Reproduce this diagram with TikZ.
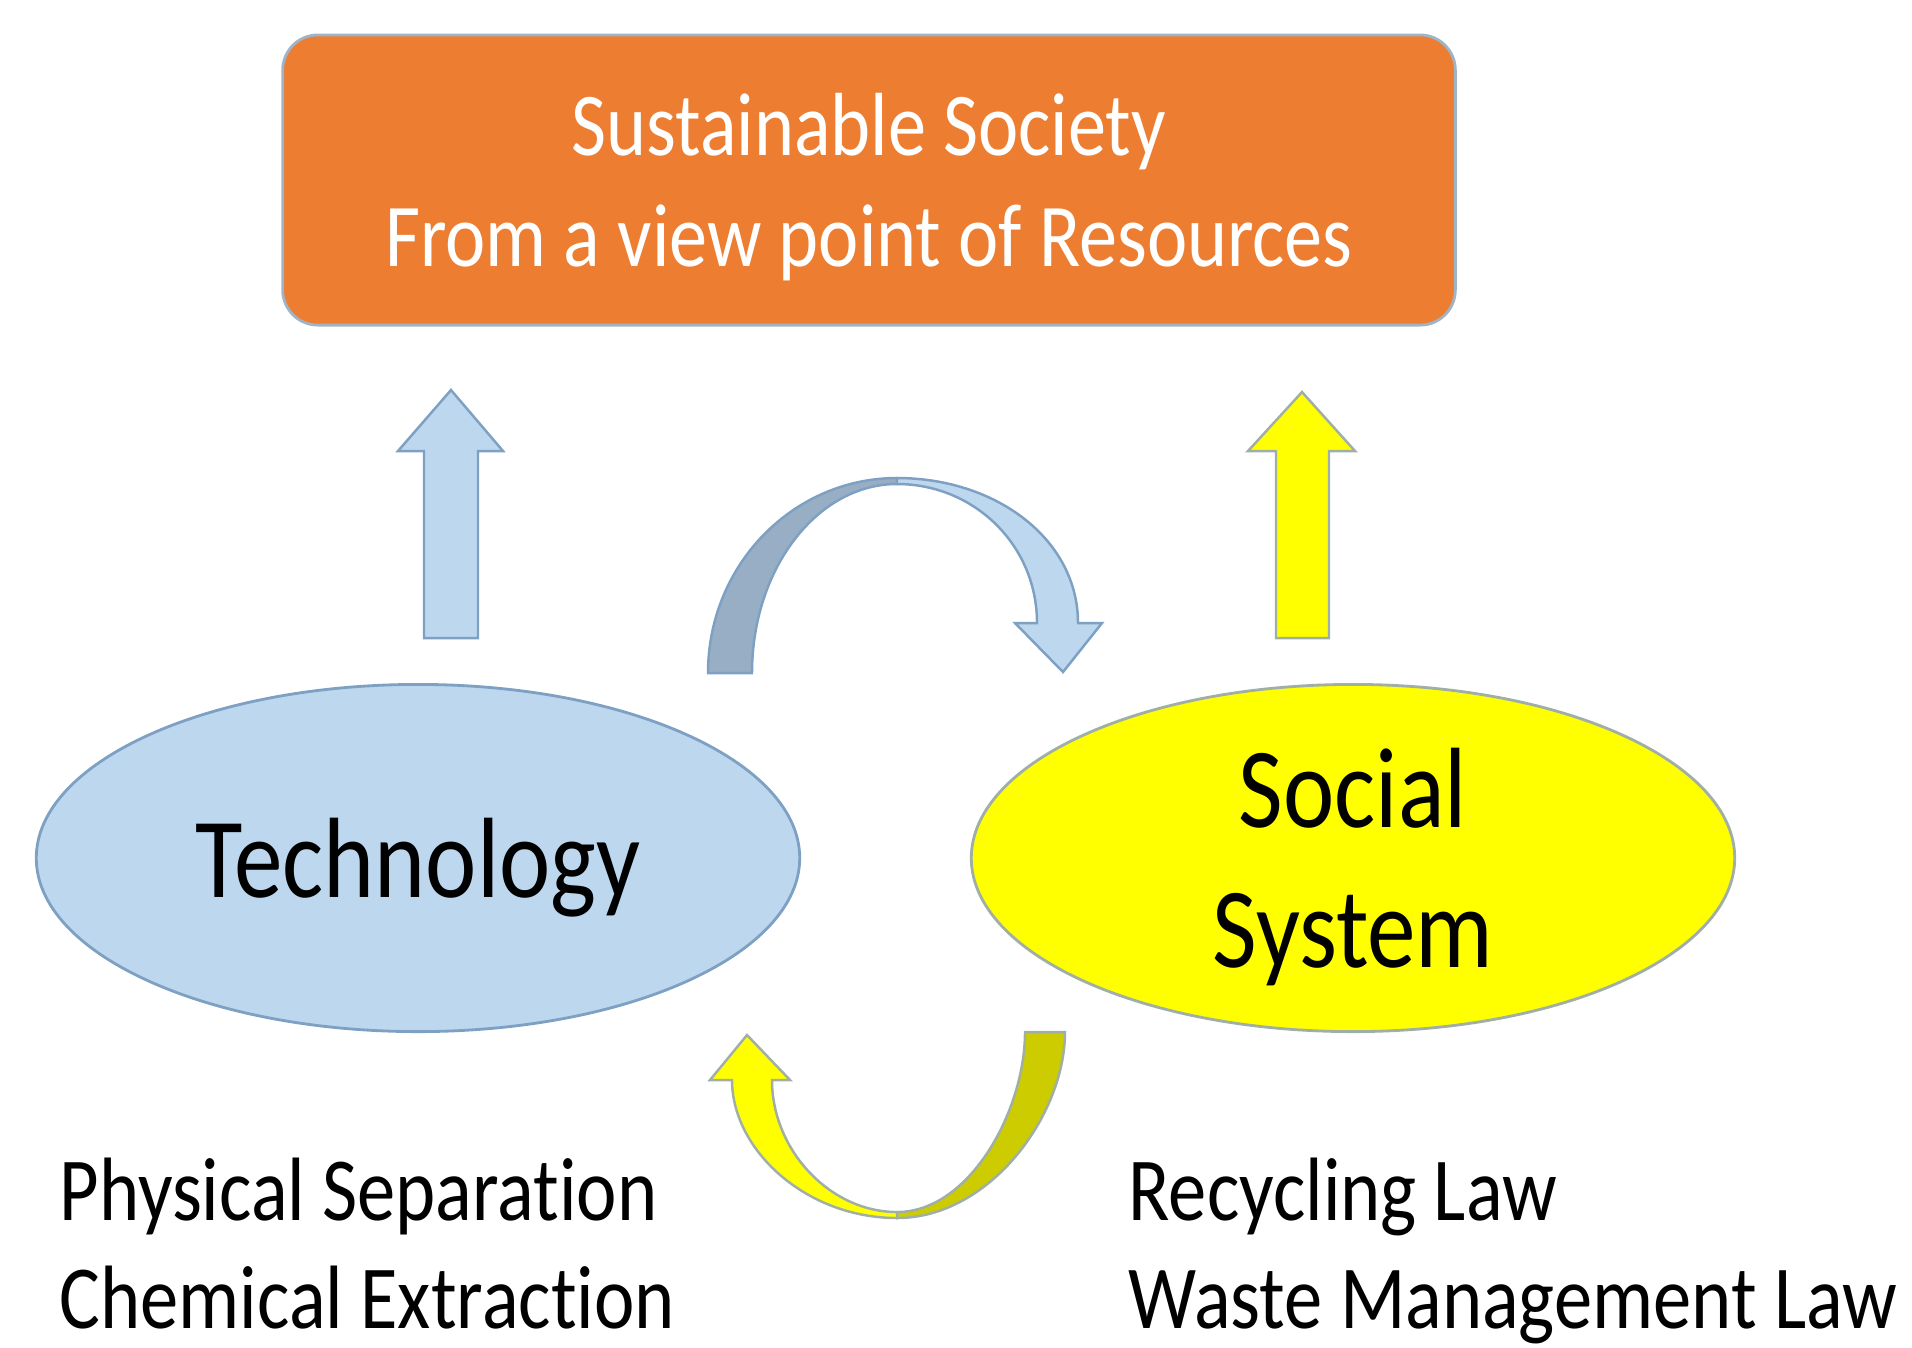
\documentclass[tikz,border=0pt]{standalone}
\usepackage{fontspec}
\setmainfont{Carlito}[FakeStretch=0.85, Ligatures=NoCommon]
\usepackage{xcolor}
\definecolor{ssorange}{RGB}{237,125,49}
\definecolor{ssedge}{RGB}{160,180,200}
\definecolor{techblue}{RGB}{189,215,238}
\definecolor{techshade}{RGB}{151,174,196}
\definecolor{techedge}{RGB}{125,160,195}
\definecolor{socyellow}{RGB}{255,255,0}
\definecolor{socshade}{RGB}{204,204,0}
\definecolor{socedge}{RGB}{160,175,165}
\usetikzlibrary{positioning,shapes.geometric}
\tikzset{
  goalbox/.style={draw=ssedge, line width=0.8pt, rounded corners=10pt, fill=ssorange,
                  text=white, font=\fontsize{25.5}{31.6}\selectfont, align=center,
                  text depth=0pt, minimum width=11.72cm, minimum height=2.9cm},
  pillar/.style={ellipse, fill=#1, line width=0.8pt, inner sep=0pt, align=center,
                 text depth=0pt, minimum width=7.63cm, minimum height=3.47cm,
                 font=\fontsize{32.5}{39.8}\selectfont},
  caption/.style={anchor=base west, inner sep=0pt, font=\fontsize{25.6}{30.7}\selectfont},
  blockarrow/.style={fill=#1, line width=0.7pt, line join=miter},
}

\begin{document}
\begin{tikzpicture}[x=0.01cm, y=-0.01cm]
\useasboundingbox (0,0) rectangle (1912,1347);

% Goal box
\node[goalbox] (goal) at (869,180) {Sustainable Society\\From a view point of Resources};

% The two pillars
\node[pillar=techblue, draw=techedge] (tech) at (418,858) {Technology};
\node[pillar=socyellow, draw=socedge] (soc) at (1353,858) {Social\\System};

% Up arrows towards the goal
\draw[blockarrow=techblue, draw=techedge]
  (424,638) -- (424,451) -- (398,451) -- (451,390) -- (503,451) -- (478,451) -- (478,638) -- cycle;
\draw[blockarrow=socyellow, draw=socedge]
  (1276,638) -- (1276,451) -- (1248,451) -- (1302,392) -- (1355,451) -- (1329,451) -- (1329,638) -- cycle;

% Top curved arrow: technology to social system
\draw[blockarrow=techshade, draw=techedge]
  (708,673) .. controls (708,565) and (793,478) .. (897,478)
  -- (897,484) .. controls (817,484) and (752,569) .. (752,673) -- cycle;
\draw[blockarrow=techblue, draw=techedge]
  (897,478) .. controls (997,478) and (1078,540) .. (1078,623)
  -- (1102,623) -- (1063,672) -- (1015,623) -- (1037,623)
  .. controls (1037,545) and (974,484) .. (897,484) -- cycle;

% Bottom curved arrow: social system to technology
\draw[blockarrow=socshade, draw=socedge]
  (1065,1032) .. controls (1065,1115) and (990,1218) .. (897,1218)
  -- (897,1212) .. controls (970,1212) and (1025,1110) .. (1025,1032) -- cycle;
\draw[blockarrow=socyellow, draw=socedge]
  (897,1218) .. controls (806,1218) and (732,1150) .. (732,1080)
  -- (710,1080) -- (747,1035) -- (790,1080) -- (772,1080)
  .. controls (772,1150) and (830,1212) .. (897,1212) -- cycle;

% Examples under each pillar
\node[caption] (phys) at (59,1220) {Physical Separation};
\node[caption] (chem) at (59,1328) {Chemical Extraction};
\node[caption] (recyc) at (1128,1220) {Recycling Law};
\node[caption] (waste) at (1128,1328) {Waste Management Law};

\end{tikzpicture}
\end{document}
